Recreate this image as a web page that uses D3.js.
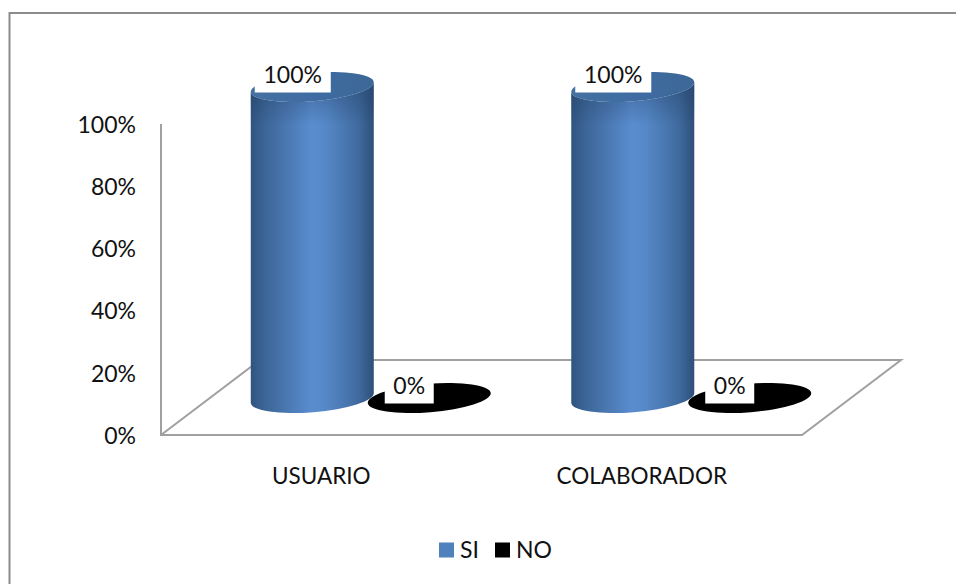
<!DOCTYPE html>
<html>
<head>
<meta charset="utf-8">
<script src="https://cdn.jsdelivr.net/npm/d3@7"></script>
<style>
    html, body { margin: 0; padding: 0; background: #fff; }
    text { font-family: Lato, "Open Sans", sans-serif; fill: #111; }
</style>
</head>
<body>
<div id="chart"></div>
<script>
const categories = ["USUARIO", "COLABORADOR"];
const seriesNames = ["SI", "NO"];
const siValues = [100, 100];
const noValues = [0, 0];
const yTicks = [0, 20, 40, 60, 80, 100];

const seriesValues = { SI: siValues, NO: noValues };
const pct = d => d + "%";

const width = 956, height = 584;
const fontSize = "23px";

const svg = d3.select("#chart").append("svg")
    .attr("width", width)
    .attr("height", height)
    .style("display", "block");

// front edge of the floor and the oblique depth of the 3d box
const plot = {left: 161, right: 802, top: 124, bottom: 435};
const depth = {dx: 99, dy: 75};
const mid = {dx: depth.dx / 2, dy: 37};

const x0 = d3.scaleBand().domain(categories).range([plot.left, plot.right]);
const x1 = d3.scaleBand().domain(seriesNames).range([0, x0.bandwidth()]).paddingOuter(0.37);
const y = d3.scaleLinear().domain([0, 100]).range([plot.bottom, plot.top]);

// cylinder ends are slightly tilted ellipses
const rx = 61.7, ry = 14.2, tilt = -4.6;
const tipX = rx * Math.cos(tilt * Math.PI / 180);
const tipY = rx * Math.sin(tilt * Math.PI / 180);

const defs = svg.append("defs");

const addGradient = (id, stops) => {
    defs.append("linearGradient").attr("id", id)
        .selectAll("stop").data(stops).enter().append("stop")
        .attr("offset", d => d[0])
        .attr("stop-color", d => d[1]);
};
addGradient("barSide", [[0, "#2f5480"], [0.12, "#3d6698"], [0.5, "#5a8dd0"], [0.62, "#5587c6"], [0.88, "#3f6a9e"], [1, "#2e4f78"]]);
addGradient("barTop", [[0, "#44719f"], [0.5, "#3f6ca3"], [1, "#3c6796"]]);

// shadow under the rim of each cylinder
const rimShade = defs.append("linearGradient").attr("id", "rimShade")
    .attr("x1", 0).attr("x2", 0).attr("y1", 0).attr("y2", 1);
rimShade.append("stop").attr("offset", 0.25).attr("stop-color", "#1f3a5c").attr("stop-opacity", 0.3);
rimShade.append("stop").attr("offset", 0.8).attr("stop-color", "#1f3a5c").attr("stop-opacity", 0);

// outer frame, only top and left edges show
svg.append("path")
    .attr("d", d3.line()([[9.5, height], [9.5, 13], [width, 13]]))
    .attr("fill", "none")
    .attr("stroke", "#8c8c8c")
    .attr("stroke-width", 2);

// floor and back edges of the box
svg.append("path")
    .attr("d", d3.line()([
        [plot.left, plot.top], [plot.left, plot.bottom],
        [plot.right, plot.bottom], [plot.right + depth.dx, plot.bottom - depth.dy],
        [plot.left + depth.dx, plot.bottom - depth.dy], [plot.left, plot.bottom]
    ]))
    .attr("fill", "none")
    .attr("stroke", "#a0a0a0")
    .attr("stroke-width", 2);

const yAxis = d3.axisLeft(y).tickValues(yTicks).tickFormat(pct).tickSize(0).tickPadding(25);
svg.append("g")
    .attr("transform", "translate(" + plot.left + ",1)")
    .call(yAxis)
    .call(g => g.select(".domain").remove())
    .selectAll("text")
    .style("font-family", "Lato, sans-serif")
    .style("font-size", fontSize)
    .attr("fill", "#111");

const xAxis = d3.axisBottom(x0).tickSize(0).tickPadding(33);
svg.append("g")
    .attr("transform", "translate(0," + plot.bottom + ")")
    .call(xAxis)
    .call(g => g.select(".domain").remove())
    .selectAll("text")
    .style("font-family", "Lato, sans-serif")
    .style("font-size", "22.5px")
    .attr("fill", "#111");

const rows = seriesNames.flatMap(s => categories.map((c, i) => ({
    series: s, category: c, value: seriesValues[s][i]
})));
const cx = d => x0(d.category) + x1(d.series) + x1.bandwidth() / 2 + mid.dx;
const yBase = y(0) - mid.dy;
const yVal = d => y(d.value) - mid.dy;
const endCap = (sel) => sel
    .attr("rx", rx).attr("ry", ry)
    .attr("transform", d => "rotate(" + tilt + " " + cx(d) + " " + yVal(d) + ")");

// no cylinders first, the si cylinders overlap them
svg.append("g").selectAll("ellipse")
    .data(rows.filter(d => d.series === "NO"))
    .enter().append("ellipse")
    .attr("cx", cx).attr("cy", yVal)
    .call(endCap)
    .attr("fill", "#000");

const bars = svg.append("g").selectAll("g")
    .data(rows.filter(d => d.series === "SI"))
    .enter().append("g");

// side of the cylinder between two lower ellipse arcs
const sidePath = (c, top, bottom) =>
    `M${c - tipX},${top - tipY} L${c - tipX},${bottom - tipY} ` +
    `A${rx},${ry} ${tilt} 0 0 ${c + tipX},${bottom + tipY} L${c + tipX},${top + tipY} ` +
    `A${rx},${ry} ${tilt} 0 1 ${c - tipX},${top - tipY} Z`;

bars.append("path")
    .attr("d", d => sidePath(cx(d), yVal(d), yBase))
    .attr("fill", "url(#barSide)");

bars.append("path")
    .attr("d", d => sidePath(cx(d), yVal(d), yVal(d) + 34))
    .attr("fill", "url(#rimShade)");

bars.append("ellipse")
    .attr("cx", cx).attr("cy", yVal)
    .call(endCap)
    .attr("fill", "url(#barTop)");

// data labels sit on white boxes
const labelOffset = 12;
const labels = svg.append("g").selectAll("g")
    .data(rows)
    .enter().append("g")
    .attr("transform", d => "translate(" + (cx(d) + (d.series === "SI" ? -19.5 : -20)) + "," + (yVal(d) - labelOffset) + ")");

labels.append("rect")
    .attr("x", d => d.series === "SI" ? -38 : -24.5)
    .attr("y", -18)
    .attr("width", d => d.series === "SI" ? 76 : 49)
    .attr("height", 35.5)
    .attr("fill", "#fff");

labels.append("text")
    .attr("text-anchor", "middle")
    .attr("dy", "0.35em")
    .style("font-size", fontSize)
    .text(d => pct(d.value));

// legend
const legendX = d3.scaleOrdinal().domain(seriesNames).range([439, 495]);
const legendColor = d3.scaleOrdinal().domain(seriesNames).range(["#4f81bd", "#000"]);
const legend = svg.append("g").selectAll("g")
    .data(seriesNames)
    .enter().append("g")
    .attr("transform", d => "translate(" + legendX(d) + ",550)");

legend.append("rect")
    .attr("y", -7.5)
    .attr("width", 15)
    .attr("height", 15)
    .attr("fill", d => legendColor(d));

legend.append("text")
    .attr("x", 21)
    .attr("dy", "0.35em")
    .style("font-size", fontSize)
    .text(d => d);
</script>
</body>
</html>
